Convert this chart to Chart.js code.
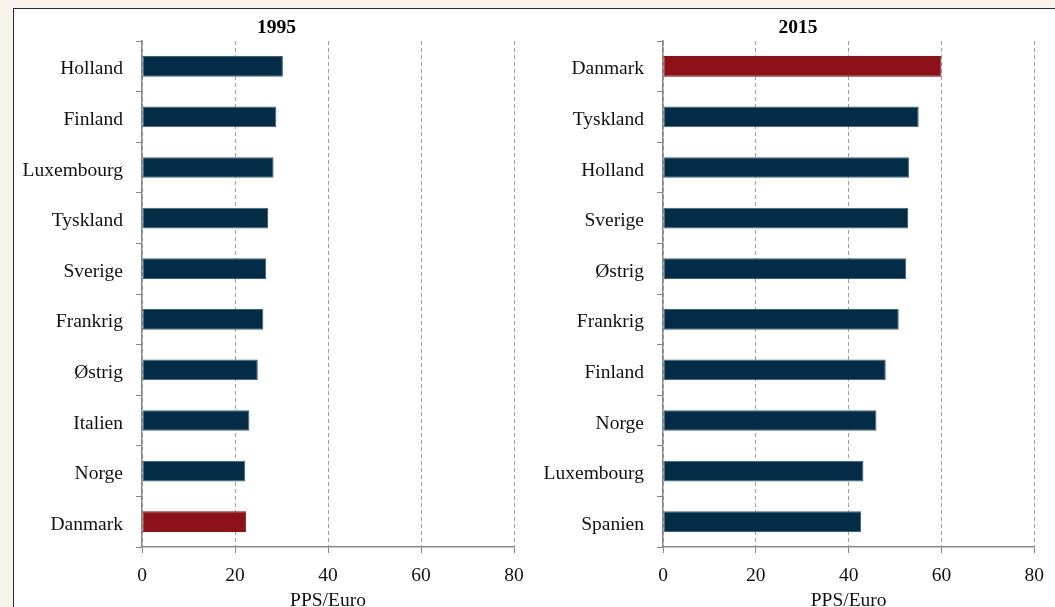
<!DOCTYPE html>
<html>
<head>
<meta charset="utf-8">
<script src="https://cdn.jsdelivr.net/npm/chart.js@4/dist/chart.umd.min.js"></script>
<style>
  html, body { margin: 0; padding: 0; width: 1055px; height: 607px; overflow: hidden; background: #f8f4ed; }
  #panel { position: absolute; left: 13px; top: 8px; width: 1100px; height: 700px; background: #fff; border: 1.5px solid #2b2b2b; box-sizing: border-box; }
  .box { position: absolute; top: 9px; height: 606px; }
  #left { left: 14px; width: 521px; }
  #right { left: 535px; width: 520px; }
</style>
</head>
<body>
<div id="panel"></div>
<div class="box" id="left"><canvas id="chart1995"></canvas></div>
<div class="box" id="right"><canvas id="chart2015"></canvas></div>
<script>
// data
const labels1995 = ["Holland", "Finland", "Luxembourg", "Tyskland", "Sverige", "Frankrig", "Østrig", "Italien", "Norge", "Danmark"];
const values1995 = [30.3, 28.9, 28.3, 27.1, 26.7, 26.1, 24.9, 23.1, 22.2, 22.4];
const labels2015 = ["Danmark", "Tyskland", "Holland", "Sverige", "Østrig", "Frankrig", "Finland", "Norge", "Luxembourg", "Spanien"];
const values2015 = [60.0, 55.1, 53.0, 52.8, 52.4, 50.8, 48.0, 46.0, 43.2, 42.7];
const xTicks = [0, 20, 40, 60, 80];

const navy = "#032c46";
const red = "#8c1118";

Chart.defaults.font.family = '"Liberation Serif", "Times New Roman", serif';
Chart.defaults.font.size = 19.5;
Chart.defaults.color = "#111";

// centred title over the whole canvas
const panelTitle = {
  id: "panelTitle",
  afterDraw(chart, args, opts) {
    const ctx = chart.ctx;
    ctx.save();
    ctx.font = 'bold 19.5px "Liberation Serif", serif';
    ctx.fillStyle = "#000";
    ctx.textAlign = "center";
    ctx.textBaseline = "middle";
    ctx.fillText(opts.text, chart.width / 2 + opts.shift, 18.5);
    ctx.restore();
  },
};

function makeChart(id, title, labels, values, padRight, shift) {
  const ctx = document.getElementById(id).getContext("2d");
  return new Chart(ctx, {
    type: "bar",
    data: {
      labels: labels,
      datasets: [
        {
          data: values,
          backgroundColor: labels.map((l) => (l === "Danmark" ? red : navy)),
          borderColor: labels.map((l) => (l === "Danmark" ? red : "#3f6178")),
          borderWidth: 1,
          borderSkipped: false,
          barPercentage: 0.41,
          categoryPercentage: 1,
        },
      ],
    },
    plugins: [panelTitle],
    options: {
      indexAxis: "y",
      responsive: true,
      maintainAspectRatio: false,
      animation: false,
      layout: { padding: { top: 32, right: padRight, left: 0, bottom: 0 } },
      plugins: {
        legend: { display: false },
        tooltip: { enabled: false },
        panelTitle: { text: title, shift: shift },
      },
      scales: {
        x: {
          min: 0,
          max: 80,
          afterBuildTicks: (scale) => {
            scale.ticks = xTicks.map((v) => ({ value: v }));
          },
          afterFit: (scale) => {
            scale.height = 68;
          },
          grid: {
            color: "#a0a0a0",
            lineWidth: 1,
            tickColor: "#888",
            tickLength: 6,
            tickBorderDash: [],
          },
          border: { display: true, color: "#888", width: 1.5, dash: [4, 3] },
          ticks: { padding: 11, color: "#111" },
          title: {
            display: true,
            text: "PPS/Euro",
            color: "#111",
            padding: { top: 0, bottom: 2 },
          },
        },
        y: {
          afterFit: (scale) => {
            scale.width = 128;
          },
          grid: {
            drawOnChartArea: false,
            drawTicks: true,
            tickLength: 6,
            tickColor: "#888",
            offset: true,
          },
          border: { display: true, color: "#888", width: 1.5 },
          ticks: { padding: 13, labelOffset: 3, color: "#111" },
        },
      },
    },
  });
}

makeChart("chart1995", "1995", labels1995, values1995, 21, 2);
makeChart("chart2015", "2015", labels2015, values2015, 20, 3);
</script>
</body>
</html>
